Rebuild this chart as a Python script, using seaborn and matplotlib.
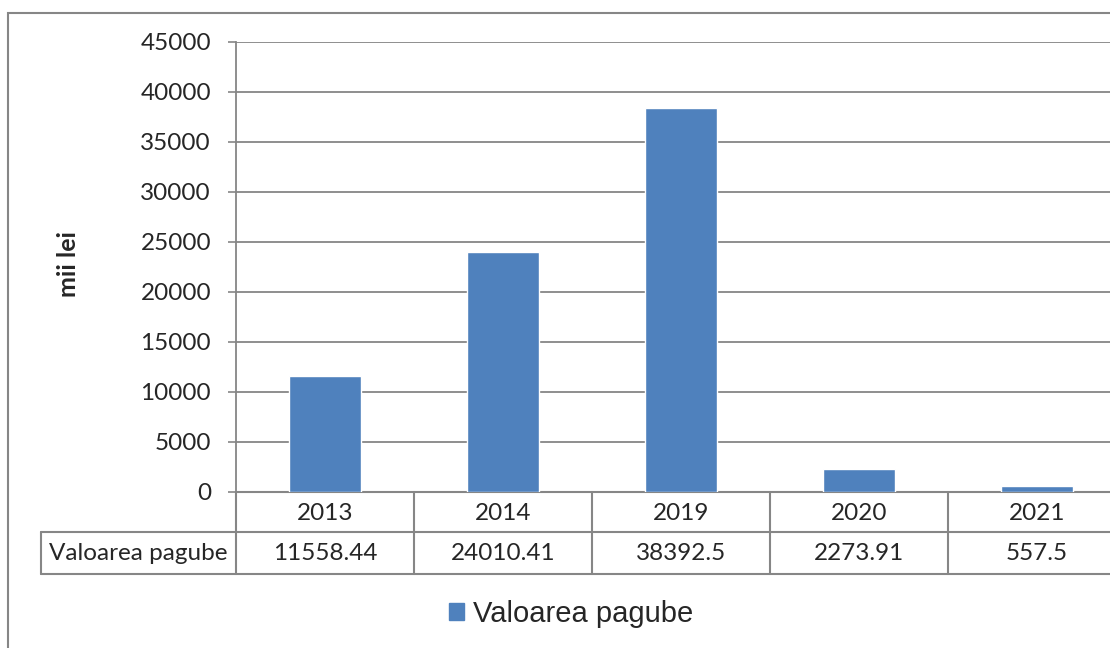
import matplotlib
matplotlib.use("Agg")
import matplotlib.pyplot as plt
from matplotlib.lines import Line2D
from matplotlib.patches import Rectangle
import pandas as pd
import seaborn as sns

# date
ani = ["2013", "2014", "2019", "2020", "2021"]
valori = [11558.44, 24010.41, 38392.5, 2273.91, 557.5]
etichete_valori = ["11558.44", "24010.41", "38392.5", "2273.91", "557.5"]
serie = "Valoarea pagube"
yticks = [0, 5000, 10000, 15000, 20000, 25000, 30000, 35000, 40000, 45000]

df = pd.DataFrame({"an": ani, "valoare": valori})

sns.set_style("white")
plt.rcParams["font.family"] = ["Lato", "DejaVu Sans"]

W, H = 1110, 648
fig = plt.figure(figsize=(W / 100, H / 100), dpi=100)

# pixel helpers (figure coords)
def fx(px):
    return px / W

def fy(py):
    return 1 - py / H

gri = "#868686"
albastru = "#4F81BD"
fs = 17.5

# plot area: left 236, top 42, bottom 492, 178 px per category (runs past right edge)
ax = fig.add_axes([fx(236), fy(492), 890 / W, 450 / H])
sns.barplot(data=df, x="an", y="valoare", color=albastru, width=0.4,
            saturation=1, ax=ax, zorder=3)
ax.set_xlim(-0.5, 4.5)
ax.set_ylim(0, 45000)
ax.set_yticks(yticks)
ax.set_yticklabels([str(v) for v in yticks], fontsize=fs)
ax.tick_params(axis="y", length=6, width=1.2, color=gri, pad=12, left=True)
ax.tick_params(axis="x", bottom=False, labelbottom=False)
ax.set_xlabel("")
ax.set_ylabel("")
ax.yaxis.grid(True, color=gri, linewidth=1.3)
ax.set_axisbelow(True)
for s in ["top", "right"]:
    ax.spines[s].set_visible(False)
ax.spines["left"].set_color(gri)
ax.spines["left"].set_linewidth(1.3)
ax.spines["bottom"].set_color(gri)
ax.spines["bottom"].set_linewidth(1.5)

fig.text(fx(68), fy(264), "mii lei", rotation=90, fontsize=18, fontweight="bold",
         ha="center", va="center")

# data table under the axis
linii = []
# horizontal lines
linii.append(Line2D([fx(41), 1.01], [fy(532), fy(532)]))
linii.append(Line2D([fx(41), 1.01], [fy(574), fy(574)]))
# vertical lines
linii.append(Line2D([fx(41), fx(41)], [fy(532), fy(574)]))
for i in range(len(ani) + 1):
    x = fx(236 + 178 * i)
    linii.append(Line2D([x, x], [fy(492), fy(574)]))
for ln in linii:
    ln.set_color(gri)
    ln.set_linewidth(1.5)
    fig.add_artist(ln)

for i, (an, et) in enumerate(zip(ani, etichete_valori)):
    xc = fx(236 + 178 * i + 89)
    fig.text(xc, fy(513), an, fontsize=fs, ha="center", va="center")
    fig.text(xc, fy(554), et, fontsize=fs, ha="center", va="center")
fig.text(fx(138), fy(554), serie, fontsize=fs, ha="center", va="center")

# outer chart border
fig.add_artist(Rectangle((fx(8), fy(660)), 1.2, fy(13) - fy(660), fill=False,
                         edgecolor=gri, linewidth=1.5, transform=fig.transFigure))

# legend
handle = Rectangle((0, 0), 1, 1, color=albastru)
fig.legend([handle], [serie], loc="center", bbox_to_anchor=(fx(571), fy(614)),
           frameon=False, handlelength=0.52, handleheight=0.52, handletextpad=0.3,
           prop={"family": ["Liberation Sans"], "size": 21})

fig.savefig("out.png", dpi=100)
